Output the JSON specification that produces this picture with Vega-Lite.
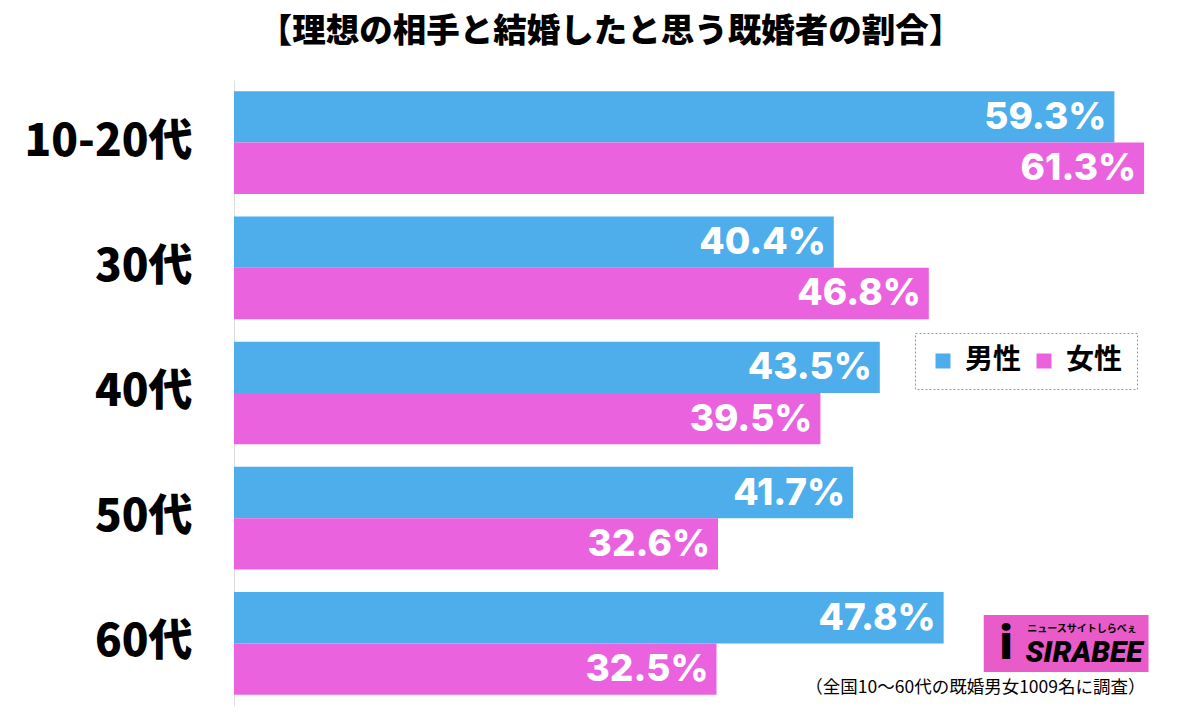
{
  "$schema": "https://vega.github.io/schema/vega-lite/v6.json",
  "width": 965,
  "height": 626,
  "autosize": {"type": "none"},
  "padding": {"left": 234, "top": 80, "right": 1, "bottom": 6},
  "background": "white",
  "title": {
    "text": "【理想の相手と結婚したと思う既婚者の割合】",
    "anchor": "middle",
    "dx": -106,
    "offset": 31,
    "fontSize": 33.5,
    "font": "Noto Sans CJK JP",
    "fontWeight": 900,
    "color": "#000000"
  },
  "data": {
    "values": [
      {"age": "10-20代", "sex": "男性", "value": 59.3, "label": "59.3%"},
      {"age": "10-20代", "sex": "女性", "value": 61.3, "label": "61.3%"},
      {"age": "30代", "sex": "男性", "value": 40.4, "label": "40.4%"},
      {"age": "30代", "sex": "女性", "value": 46.8, "label": "46.8%"},
      {"age": "40代", "sex": "男性", "value": 43.5, "label": "43.5%"},
      {"age": "40代", "sex": "女性", "value": 39.5, "label": "39.5%"},
      {"age": "50代", "sex": "男性", "value": 41.7, "label": "41.7%"},
      {"age": "50代", "sex": "女性", "value": 32.6, "label": "32.6%"},
      {"age": "60代", "sex": "男性", "value": 47.8, "label": "47.8%"},
      {"age": "60代", "sex": "女性", "value": 32.5, "label": "32.5%"}
    ]
  },
  "layer": [
    {
      "mark": {"type": "bar"},
      "encoding": {
        "y": {
          "field": "age", "type": "nominal",
          "sort": ["10-20代", "30代", "40代", "50代", "60代"],
          "scale": {"paddingInner": 0.18, "paddingOuter": 0.09},
          "axis": {
            "title": null, "ticks": false, "domainColor": "#dddddd", "domainWidth": 1,
            "labelFontSize": 44, "labelFont": "Noto Sans CJK JP", "labelFontWeight": 900,
            "labelColor": "#000000", "labelPadding": 42
          }
        },
        "yOffset": {"field": "sex", "type": "nominal", "sort": ["男性", "女性"]},
        "x": {
          "field": "value", "type": "quantitative",
          "scale": {"domain": [0, 65]},
          "axis": {
            "title": "（全国10〜60代の既婚男女1009名に調査）",
            "domain": false, "labels": false, "ticks": false, "grid": false,
            "titleFontSize": 17.5, "titleFontWeight": "normal", "titleFont": "Noto Sans CJK JP",
            "titleColor": "#000000",
            "titleX": 911, "titleY": -19, "titleAlign": "right", "titleBaseline": "middle"
          }
        },
        "color": {
          "field": "sex", "type": "nominal",
          "scale": {"domain": ["男性", "女性"], "range": ["#4EADEB", "#EA62DE"]},
          "legend": {
            "title": null, "orient": "none", "legendX": 681, "legendY": 253,
            "direction": "horizontal", "strokeColor": "#999999",
            "fillColor": "white", "padding": 14, "symbolType": "square", "symbolSize": 225,
            "symbolStrokeWidth": 0, "labelFontSize": 28, "labelFontWeight": "bold",
            "labelFont": "Noto Sans CJK JP", "labelColor": "#000000", "columnPadding": 8,
            "labelOffset": 8
          }
        }
      }
    },
    {
      "mark": {"type": "text", "align": "right", "baseline": "middle", "dx": -8, "dy": 1,
               "fontSize": 37, "fontWeight": 800, "font": "Inter", "color": "white"},
      "encoding": {
        "y": {"field": "age", "type": "nominal", "sort": ["10-20代", "30代", "40代", "50代", "60代"]},
        "yOffset": {"field": "sex", "type": "nominal", "sort": ["男性", "女性"]},
        "x": {"field": "value", "type": "quantitative"},
        "text": {"field": "label"}
      }
    },
    {
      "data": {"values": [{"brand": "SIRABEE"}]},
      "layer": [
        {
          "mark": {"type": "bar", "height": 57, "color": "#E85BC8"},
          "encoding": {
            "y": {"datum": "60代", "type": "nominal"},
            "x": {"datum": 50.5, "type": "quantitative"},
            "x2": {"datum": 61.6}
          }
        },
        {
          "mark": {"type": "text", "align": "right", "baseline": "middle", "dy": 10,
                   "fontSize": 30, "fontWeight": 900, "fontStyle": "italic", "font": "Roboto", "color": "black"},
          "encoding": {
            "y": {"datum": "60代", "type": "nominal"},
            "x": {"datum": 61.2, "type": "quantitative"},
            "text": {"field": "brand"}
          }
        },
        {
          "mark": {"type": "text", "align": "right", "baseline": "middle", "dy": -14,
                   "fontSize": 10, "fontWeight": "bold", "font": "Noto Sans CJK JP", "color": "black"},
          "encoding": {
            "y": {"datum": "60代", "type": "nominal"},
            "x": {"datum": 60.8, "type": "quantitative"},
            "text": {"value": "ニュースサイトしらべぇ"}
          }
        },
        {
          "mark": {"type": "text", "align": "center", "baseline": "middle", "dy": 2,
                   "fontSize": 48, "fontWeight": 900, "font": "Roboto", "color": "black"},
          "encoding": {
            "y": {"datum": "60代", "type": "nominal"},
            "x": {"datum": 52.0, "type": "quantitative"},
            "text": {"value": "i"}
          }
        }
      ]
    }
  ],
  "config": {
    "view": {"stroke": null},
    "legend": {"strokeDash": [2, 2]}
  }
}
